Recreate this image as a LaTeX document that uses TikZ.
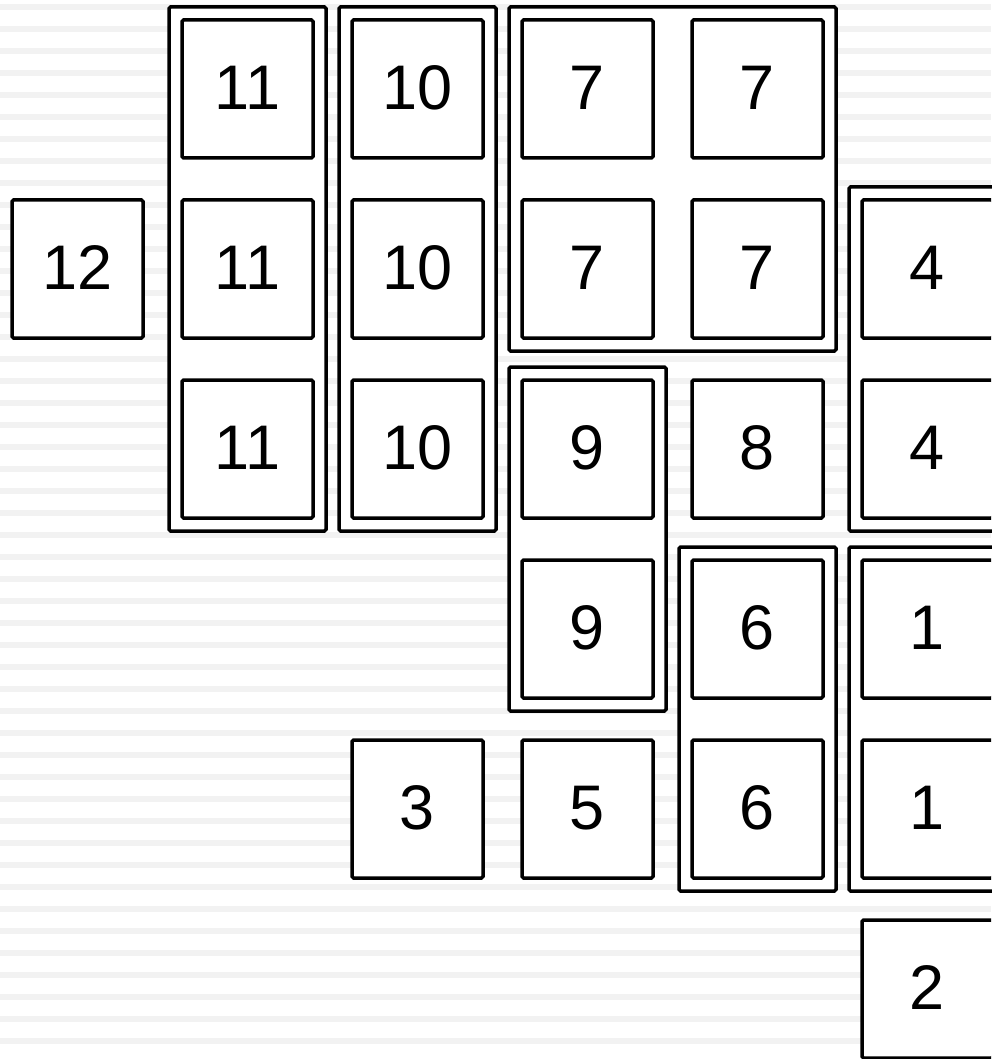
\documentclass[tikz,border=0pt]{standalone}
\usepackage{fontspec}
\setmainfont{Liberation Sans}
\usetikzlibrary{fit,backgrounds}
\definecolor{stripe}{HTML}{F2F2F2}
\newcommand{\cellnum}[1]{\raisebox{3pt}{#1}}
\begin{document}
\begin{tikzpicture}[x=1pt,y=-1pt,
  cell/.style={draw,fill=white,line width=3.5pt,rounded corners=1.5pt,minimum width=131pt,minimum height=138pt,inner sep=0pt,outer sep=0pt,font=\fontsize{63}{65}\selectfont},
  frame/.style={draw,fill=white,line width=3.5pt,rounded corners=1.5pt,inner sep=13pt,outer sep=0pt}]
\useasboundingbox (0,0) rectangle (991,1059);
\clip (0,0) rectangle (991,1059);
% columns 77.5 247.5 417.5 587.5 757.5 927.5 ; rows 89 269 449 629 809 989
\node[cell] (c12)  at (77.5,269) {\cellnum{12}};
\node[cell] (c11a) at (247.5,89) {\cellnum{11}};
\node[cell] (c11b) at (247.5,269) {\cellnum{11}};
\node[cell] (c11c) at (247.5,449) {\cellnum{11}};
\node[cell] (c10a) at (417.5,89) {\cellnum{10}};
\node[cell] (c10b) at (417.5,269) {\cellnum{10}};
\node[cell] (c10c) at (417.5,449) {\cellnum{10}};
\node[cell] (c7a) at (587.5,89) {\cellnum{7}};
\node[cell] (c7b) at (757.5,89) {\cellnum{7}};
\node[cell] (c7c) at (587.5,269) {\cellnum{7}};
\node[cell] (c7d) at (757.5,269) {\cellnum{7}};
\node[cell] (c9a) at (587.5,449) {\cellnum{9}};
\node[cell] (c9b) at (587.5,629) {\cellnum{9}};
\node[cell] (c8) at (757.5,449) {\cellnum{8}};
\node[cell] (c4a) at (927.5,269) {\cellnum{4}};
\node[cell] (c4b) at (927.5,449) {\cellnum{4}};
\node[cell] (c6a) at (757.5,629) {\cellnum{6}};
\node[cell] (c6b) at (757.5,809) {\cellnum{6}};
\node[cell] (c1a) at (927.5,629) {\cellnum{1}};
\node[cell] (c1b) at (927.5,809) {\cellnum{1}};
\node[cell] (c3) at (417.5,809) {\cellnum{3}};
\node[cell] (c5) at (587.5,809) {\cellnum{5}};
\node[cell] (c2) at (927.5,989) {\cellnum{2}};
\begin{scope}[on background layer]
  \foreach \y in {4,26,...,1059} {
    \fill[stripe] (0,\y) rectangle (991,\y+6);
  }
  \node[frame,fit=(c11a)(c11c)] (f11) {};
  \node[frame,fit=(c10a)(c10c)] (f10) {};
  \node[frame,fit=(c7a)(c7d)] (f7) {};
  \node[frame,fit=(c9a)(c9b)] (f9) {};
  \node[frame,fit=(c4a)(c4b)] (f4) {};
  \node[frame,fit=(c6a)(c6b)] (f6) {};
  \node[frame,fit=(c1a)(c1b)] (f1) {};
\end{scope}
\end{tikzpicture}
\end{document}
